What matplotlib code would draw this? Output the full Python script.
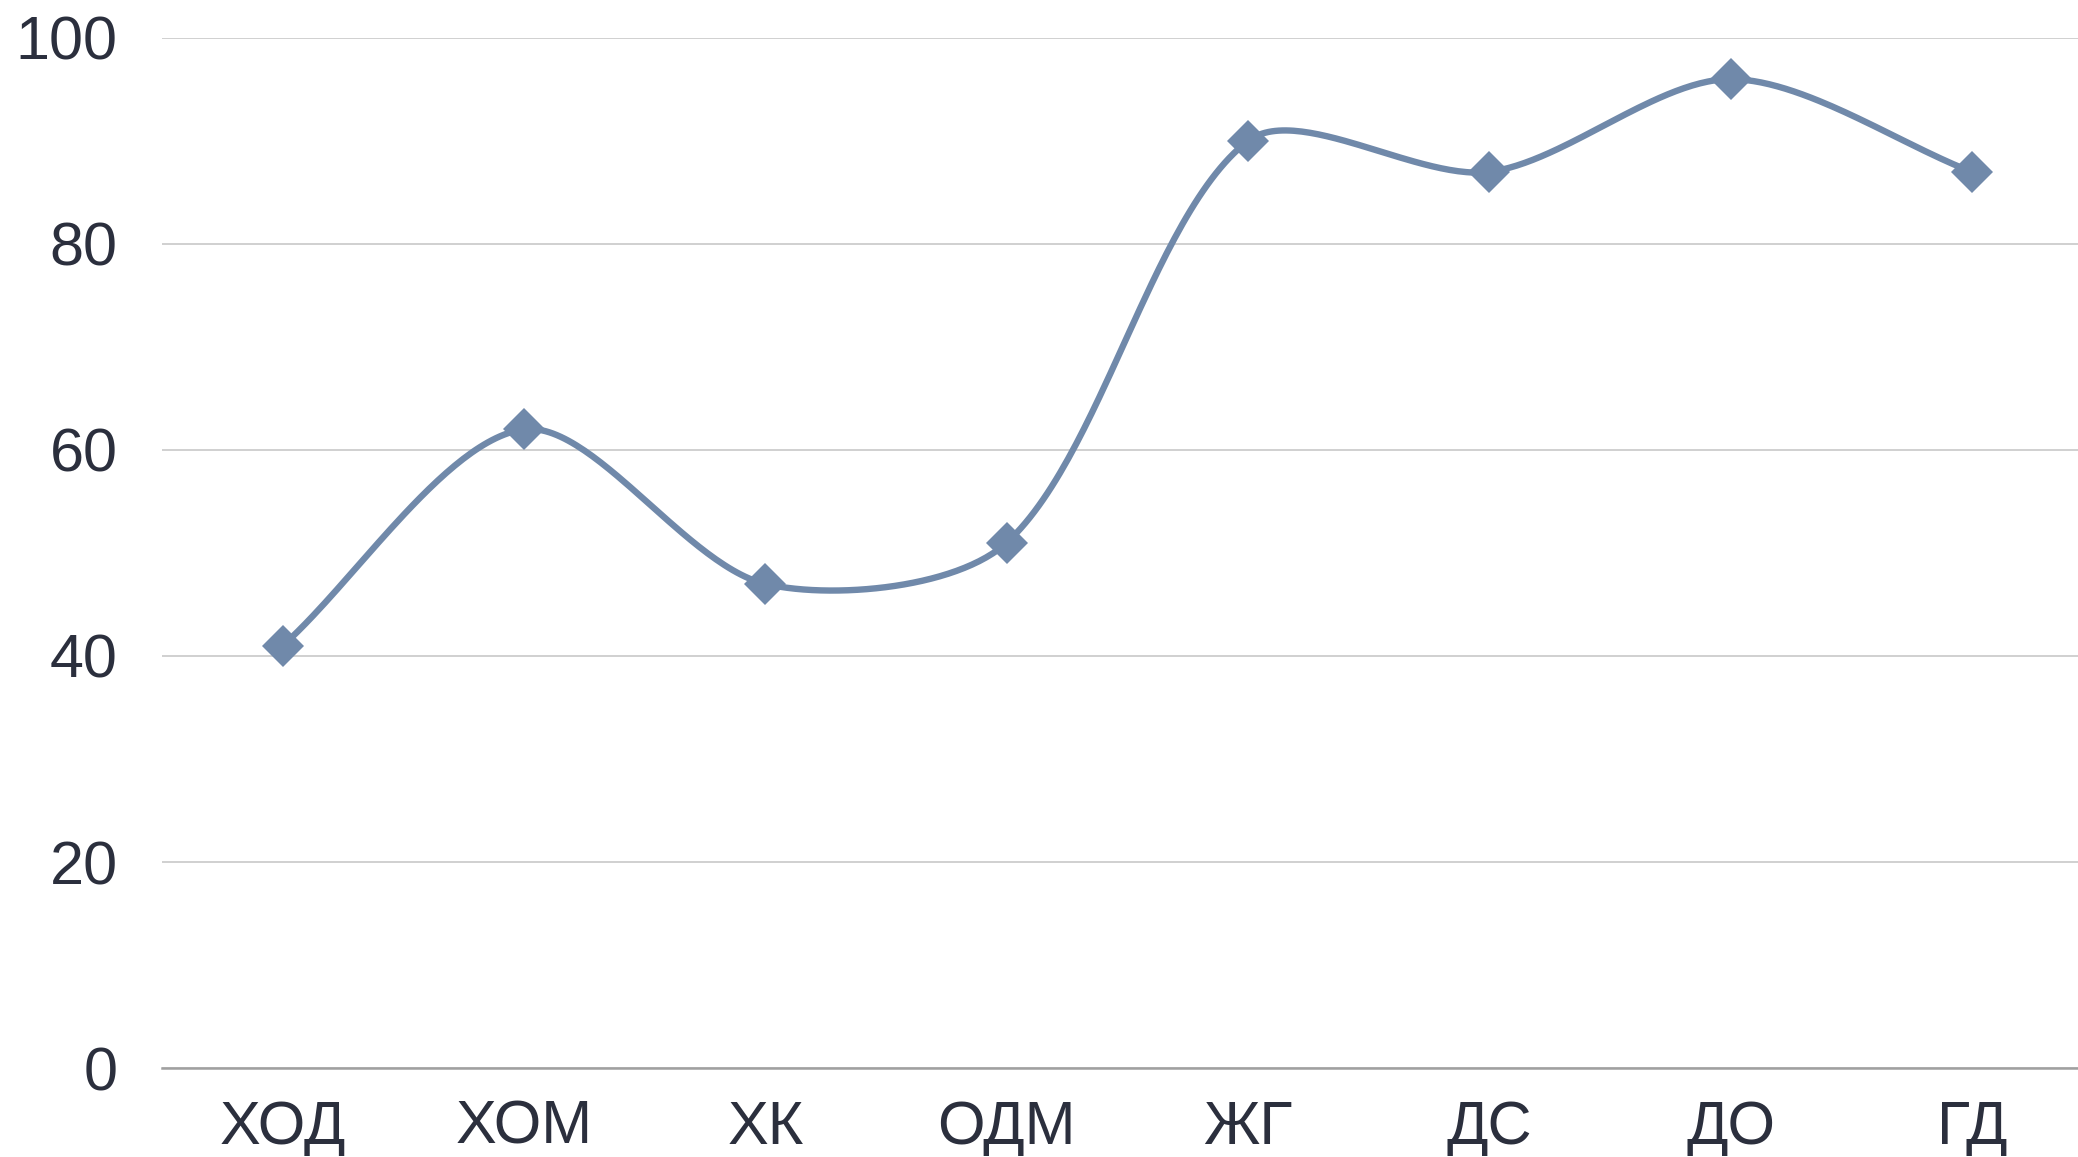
import numpy as np
import matplotlib
matplotlib.use("Agg")
import matplotlib.pyplot as plt

categories = ["ХОД", "ХОМ", "ХК", "ОДМ", "ЖГ", "ДС", "ДО", "ГД"]
values = [41, 62, 47, 51, 90, 87, 96, 87]
y_ticks = [0, 20, 40, 60, 80, 100]

line_color = "#7089aa"
text_color = "#2b2f3d"

plt.rcParams['font.family'] = ['Liberation Sans', 'DejaVu Sans']


def smooth_curve(pts, tension=0.3, steps=60):
    # distance-weighted cubic spline (chart.js style), pts in pixel space
    n = len(pts)
    ctrl_prev = np.zeros_like(pts)
    ctrl_next = np.zeros_like(pts)
    for i in range(n):
        prev = pts[max(i - 1, 0)]
        cur = pts[i]
        nxt = pts[min(i + 1, n - 1)]
        d01 = np.hypot(*(cur - prev))
        d12 = np.hypot(*(nxt - cur))
        tot = d01 + d12
        s01 = d01 / tot if tot else 0
        s12 = d12 / tot if tot else 0
        ctrl_prev[i] = cur - tension * s01 * (nxt - prev)
        ctrl_next[i] = cur + tension * s12 * (nxt - prev)
    t = np.linspace(0, 1, steps)[:, None]
    out = []
    for i in range(n - 1):
        p0, c1, c2, p3 = pts[i], ctrl_next[i], ctrl_prev[i + 1], pts[i + 1]
        seg = ((1 - t) ** 3) * p0 + 3 * ((1 - t) ** 2) * t * c1 \
            + 3 * (1 - t) * t ** 2 * c2 + t ** 3 * p3
        out.append(seg if i == 0 else seg[1:])
    return np.vstack(out)


x = np.arange(len(categories))

fig = plt.figure(figsize=(20.78, 11.57), dpi=100)
ax = fig.add_axes([0.078, 0.0769, 0.929, 0.8903])
ax.set_xlim(-0.5, len(categories) - 0.5)
ax.set_ylim(0, 100)

pix = ax.transData.transform(np.column_stack([x, values]).astype(float))
curve = ax.transData.inverted().transform(smooth_curve(pix))
ax.plot(curve[:, 0], curve[:, 1], color=line_color, linewidth=4.6,
        solid_capstyle='round', zorder=3)
ax.plot(x, values, linestyle='none', marker='D', markersize=21.4,
        color=line_color, markeredgewidth=0, zorder=4)

ax.set_yticks(y_ticks)
ax.set_xticks(x)
ax.set_xticklabels(categories)

ax.grid(axis='y', color='#d0d0d0', linewidth=1.4)
ax.set_axisbelow(True)
for side in ['top', 'right', 'left']:
    ax.spines[side].set_visible(False)
ax.spines['bottom'].set_color('#a0a0a0')
ax.spines['bottom'].set_linewidth(1.8)
ax.spines['bottom'].set_zorder(2)

ax.tick_params(axis='both', length=0, labelsize=44, labelcolor=text_color)
ax.tick_params(axis='y', pad=32)
ax.tick_params(axis='x', pad=23)

fig.savefig("out.png", dpi=100)
